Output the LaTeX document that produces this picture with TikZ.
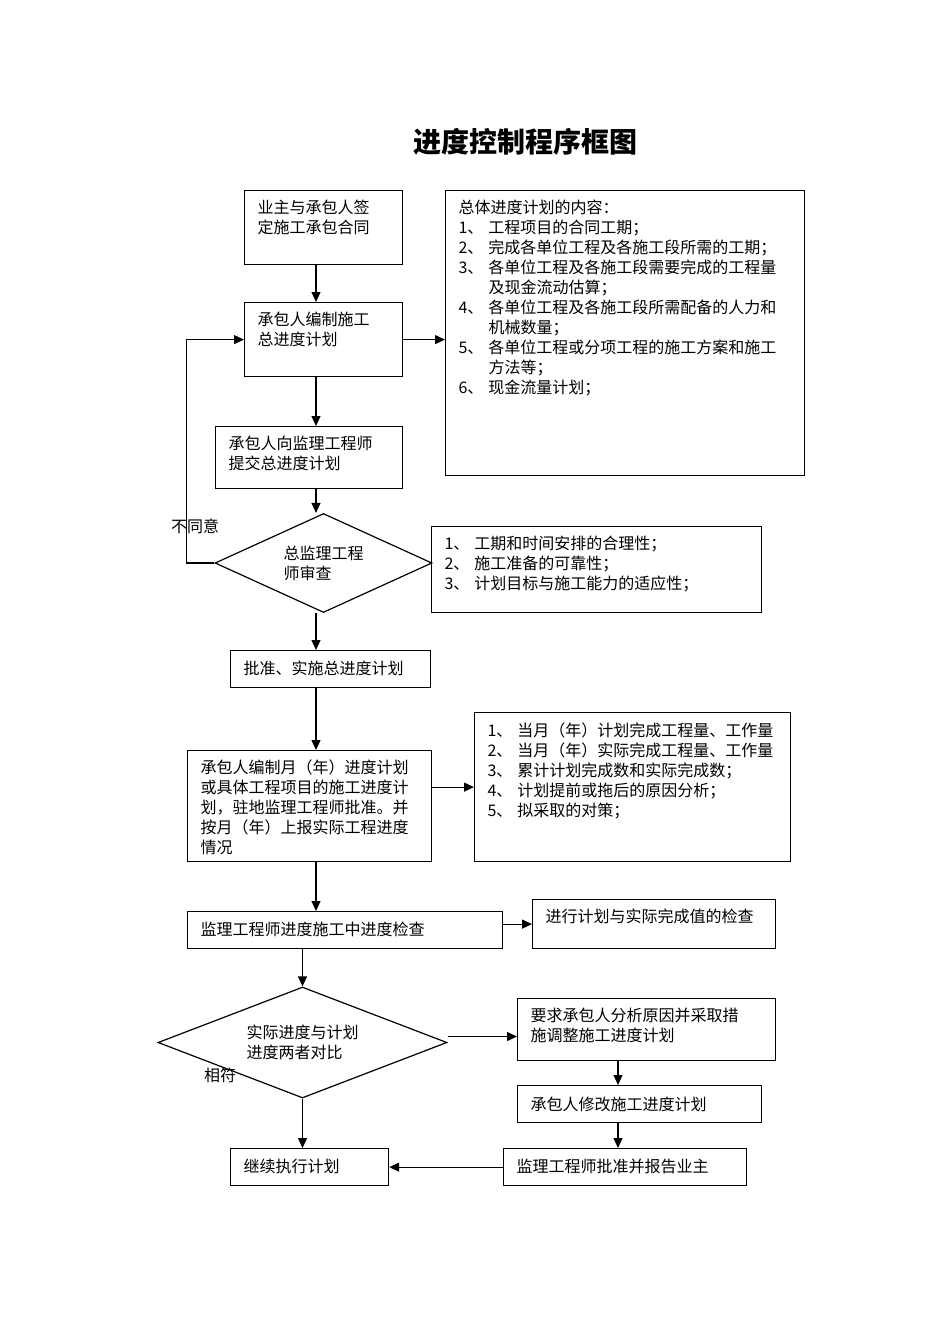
\documentclass[tikz,border=0pt]{standalone}
\usepackage{fontspec}
\setmainfont{Noto Sans CJK SC}
\usetikzlibrary{arrows.meta,shapes.geometric}

\newcommand{\itemno}[1]{#1、\hspace{5pt}}
\newcommand{\hang}{\hspace*{30pt}}

\tikzset{
    box/.style={draw,anchor=north west,align=left,inner xsep=13pt,inner ysep=0pt,text height=23pt},
    decision/.style={draw,diamond,inner sep=0pt,align=left}
}

\begin{document}
\begin{tikzpicture}[
        x=1pt,y=-1pt,
        font=\fontsize{16pt}{20pt}\selectfont,
        every path/.style={line width=1.2pt},
        >={Triangle[length=10pt,width=9pt]}
    ]
    \useasboundingbox (0,0) rectangle (950,1344);

    \node[font=\fontsize{28pt}{32pt}\selectfont\bfseries] (title) at (525,142) {进度控制程序框图};

    % main column
    \node[box,text width=132pt,text depth=51pt] (sign) at (244,190) {业主与承包人签\\定施工承包合同};
    \node[box,text width=132pt,text depth=51pt] (master) at (244,302) {承包人编制施工\\总进度计划};
    \node[box,text width=161pt,text depth=39pt] (submit) at (215,426) {承包人向监理工程师\\提交总进度计划};
    \node[decision,aspect=2.19,minimum width=217pt,minimum height=99pt] (review) at (323.5,563) {总监理工程\\师审查};
    \node[box,text width=174pt,text height=24pt,text depth=13pt] (approve) at (230,650) {批准、实施总进度计划};
    \node[box,text width=218pt,text depth=88pt] (monthly) at (187,750)
        {承包人编制月（年）进度计划\\或具体工程项目的施工进度计\\划，驻地监理工程师批准。并\\按月（年）上报实际工程进度\\情况};
    \node[box,text width=289pt,text height=24pt,text depth=13pt] (inspect) at (187,911) {监理工程师进度施工中进度检查};
    \node[decision,aspect=2.6,minimum width=289pt,minimum height=111pt] (compare) at (302.5,1042.5) {实际进度与计划\\进度两者对比};
    \node[box,text width=132pt,text height=24pt,text depth=13pt] (continue) at (230,1148) {继续执行计划};

    % side boxes
    \node[box,text width=333pt,text depth=262pt] (content) at (445,190)
        {总体进度计划的内容：\\
         \itemno{1}工程项目的合同工期；\\
         \itemno{2}完成各单位工程及各施工段所需的工期；\\
         \itemno{3}各单位工程及各施工段需要完成的工程量\\
         \hang 及现金流动估算；\\
         \itemno{4}各单位工程及各施工段所需配备的人力和\\
         \hang 机械数量；\\
         \itemno{5}各单位工程或分项工程的施工方案和施工\\
         \hang 方法等；\\
         \itemno{6}现金流量计划；};
    \node[box,text width=304pt,text depth=63pt] (criteria) at (431,526)
        {\itemno{1}工期和时间安排的合理性；\\
         \itemno{2}施工准备的可靠性；\\
         \itemno{3}计划目标与施工能力的适应性；};
    \node[box,text width=290pt,text height=24pt,text depth=125pt] (report) at (474,712)
        {\itemno{1}当月（年）计划完成工程量、工作量\\
         \itemno{2}当月（年）实际完成工程量、工作量\\
         \itemno{3}累计计划完成数和实际完成数；\\
         \itemno{4}计划提前或拖后的原因分析；\\
         \itemno{5}拟采取的对策；};
    \node[box,text width=217pt,text depth=26pt] (checkval) at (532,899) {进行计划与实际完成值的检查};
    \node[box,text width=232pt,text depth=39pt] (adjust) at (517,998) {要求承包人分析原因并采取措\\施调整施工进度计划};
    \node[box,text width=218pt,text height=25pt,text depth=12pt] (revise) at (517,1085) {承包人修改施工进度计划};
    \node[box,text width=217pt,text height=24pt,text depth=13pt] (confirm) at (503,1148) {监理工程师批准并报告业主};

    \node (disagree) at (195,526) {不同意};
    \node (match) at (220,1075) {相符};

    \coordinate (lspine) at (316,0);
    \coordinate (rspine) at (618,0);

    \draw[->] (lspine |- sign.south) -- (lspine |- master.north);
    \draw[->] (lspine |- master.south) -- (lspine |- submit.north);
    \draw[->] (lspine |- submit.south) -- (lspine |- review.north);
    \draw[->] (lspine |- review.south) -- (lspine |- approve.north);
    \draw[->] (lspine |- approve.south) -- (lspine |- monthly.north);
    \draw[->] (lspine |- monthly.south) -- (lspine |- inspect.north);
    \draw[->] (inspect.south -| compare.north) -- (compare.north);
    \draw[->] (compare.south) -- (compare.south |- continue.north);

    \draw[->] (review.west) -- ++(-28,0) |- (master.west);
    \draw[->] (master.east) -- (master.east -| content.west);
    \draw[->] (monthly.east |- report.west) -- (report.west);
    \draw[->] (inspect.east |- checkval.west) -- (checkval.west);
    \draw[->] ([yshift=6pt]compare.east) -- ([yshift=6pt]compare.east -| adjust.west);
    \draw[->] (rspine |- adjust.south) -- (rspine |- revise.north);
    \draw[->] (rspine |- revise.south) -- (rspine |- confirm.north);
    \draw[->] (confirm.west) -- (continue.east);
\end{tikzpicture}
\end{document}
